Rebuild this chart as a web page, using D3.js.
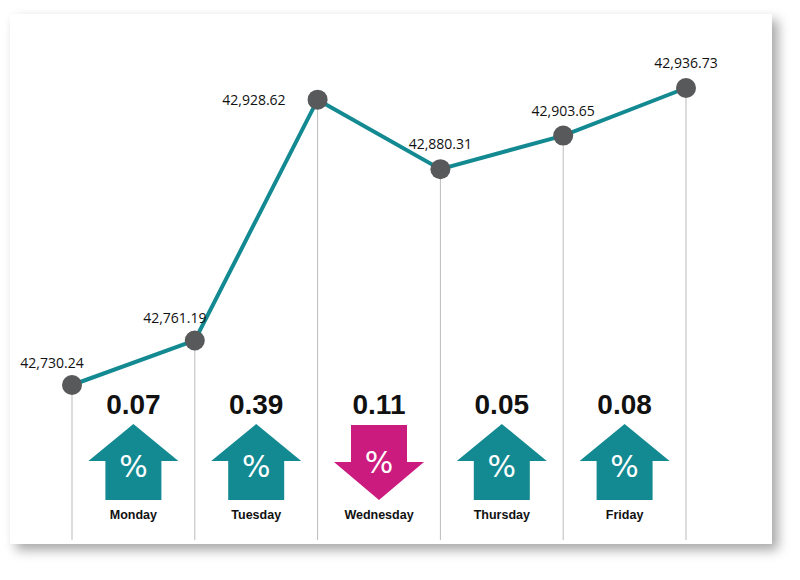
<!DOCTYPE html>
<html><head><meta charset="utf-8">
<script src="https://cdn.jsdelivr.net/npm/d3@7"></script>
<style>body{margin:0;background:#fff;}</style>
</head><body>
<svg id="c" width="800" height="580"></svg>
<script>
const pointLabels = ["42,730.24","42,761.19","42,928.62","42,880.31","42,903.65","42,936.73"];
const values = [42730.24, 42761.19, 42928.62, 42880.31, 42903.65, 42936.73];
const days = ["Monday","Tuesday","Wednesday","Thursday","Friday"];
const changes = ["0.07","0.39","0.11","0.05","0.08"];
const directions = ["up","up","down","up","up"];

const svg = d3.select("#c");
const defs = svg.append("defs");
const f = defs.append("filter").attr("id","sh").attr("x","-10%").attr("y","-10%").attr("width","130%").attr("height","130%");
f.append("feDropShadow").attr("dx",6).attr("dy",6).attr("stdDeviation",6).attr("flood-color","#000").attr("flood-opacity",0.35);
svg.append("rect").attr("x",10).attr("y",14).attr("width",762).attr("height",530).attr("fill","#fff").attr("filter","url(#sh)");

const x = d3.scaleLinear().domain([0,5]).range([72,686]);
const y = d3.scaleLinear().domain([42730.24,42936.73]).range([385,88]);
const teal="#138a92", pink="#cc1b7f";

values.forEach((v,i)=>svg.append("line").attr("x1",x(i)).attr("x2",x(i)).attr("y1",y(v)).attr("y2",540).attr("stroke","#bbb").attr("stroke-width",1));
svg.append("path").datum(values).attr("fill","none").attr("stroke",teal).attr("stroke-width",4)
  .attr("d",d3.line().x((d,i)=>x(i)).y(d=>y(d)));
values.forEach((v,i)=>svg.append("circle").attr("cx",x(i)).attr("cy",y(v)).attr("r",10).attr("fill","#58595b"));
const lblOff=[[-20,-22],[-20,-22],[-32,0],[0,-25],[0,-25],[0,-25]];
const anch=["middle","middle","end","middle","middle","middle"];
values.forEach((v,i)=>svg.append("text").attr("x",x(i)+lblOff[i][0]).attr("y",y(v)+lblOff[i][1]+5)
  .attr("text-anchor",anch[i]).attr("font-family","Open Sans, sans-serif").attr("font-size",14).attr("fill","#111").text(pointLabels[i]));

days.forEach((d,i)=>{
  const cx=(x(i)+x(i+1))/2;
  svg.append("text").attr("x",cx).attr("y",414).attr("text-anchor","middle").attr("font-family","Liberation Sans, Arial, sans-serif")
    .attr("font-weight","bold").attr("font-size",28).attr("fill","#111").text(changes[i]);
  const up=directions[i]==="up", col=up?teal:pink;
  let pts = up ? [[0,424],[45,461],[28,461],[28,500],[-28,500],[-28,461],[-45,461]]
               : [[0,500],[45,462],[28,462],[28,425],[-28,425],[-28,462],[-45,462]];
  svg.append("polygon").attr("points",pts.map(p=>[cx+p[0],p[1]].join(",")).join(" ")).attr("fill",col);
  svg.append("text").attr("x",cx).attr("y",up?477:473).attr("text-anchor","middle").attr("font-family","DejaVu Sans, sans-serif")
    .attr("font-size",30).attr("fill","#fff").text("%");
  svg.append("text").attr("x",cx).attr("y",519).attr("text-anchor","middle").attr("font-family","Liberation Sans, Arial, sans-serif")
    .attr("font-weight","bold").attr("font-size",12.5).attr("fill","#111").text(d);
});
</script></body></html>
